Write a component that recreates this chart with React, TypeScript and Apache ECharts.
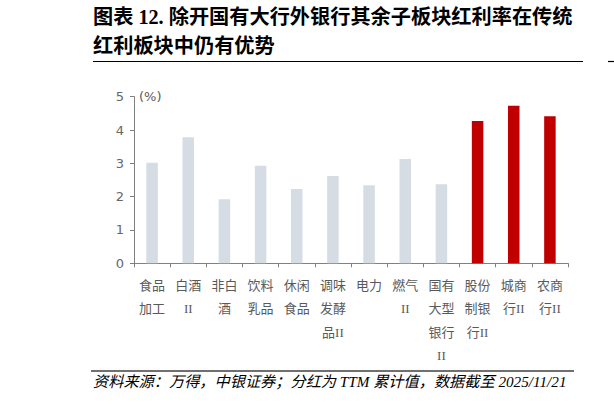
import React, { useEffect, useRef } from "react";
import * as echarts from "echarts";

const categories = [
  "食品\n加工",
  "白酒\nII",
  "非白\n酒",
  "饮料\n乳品",
  "休闲\n食品",
  "调味\n发酵\n品II",
  "电力",
  "燃气\nII",
  "国有\n大型\n银行\nII",
  "股份\n制银\n行II",
  "城商\n行II",
  "农商\n行II",
];
const dividendYield = [3.02, 3.78, 1.92, 2.93, 2.23, 2.62, 2.34, 3.13, 2.37, 4.27, 4.73, 4.41];
const highlighted = [false, false, false, false, false, false, false, false, false, true, true, true];
const yTicks = { min: 0, max: 5, interval: 1 };
const titleLines = ["图表 12. 除开国有大行外银行其余子板块红利率在传统", "红利板块中仍有优势"];
const sourceText = "资料来源：万得，中银证券；分红为 TTM 累计值，数据截至 2025/11/21";
const unitText = "(%)";

const GRAY = "#D6DCE4";
const RED = "#C00000";

export default function App() {
  const ref = useRef<HTMLDivElement>(null);
  useEffect(() => {
    if (!ref.current) return;
    const chart = echarts.init(ref.current, undefined, { renderer: "svg" });
    chart.setOption({
      animation: false,
      backgroundColor: "#ffffff",
      grid: { left: 134, right: 46, top: 96.7, bottom: 140.7, containLabel: false },
      xAxis: {
        type: "category",
        data: categories,
        axisLine: { show: true, lineStyle: { color: "#808080", width: 1 } },
        axisTick: { show: true, length: 4, lineStyle: { color: "#808080" } },
        axisLabel: {
          interval: 0,
          margin: 10,
          fontSize: 13,
          lineHeight: 23.5,
          color: "#595959",
          fontFamily: "'Liberation Serif', 'Noto Sans CJK SC'",
          verticalAlign: "top",
        },
        splitLine: { show: false },
      },
      yAxis: {
        type: "value",
        min: yTicks.min,
        max: yTicks.max,
        interval: yTicks.interval,
        axisLine: { show: true, lineStyle: { color: "#808080", width: 1 } },
        axisTick: { show: true, length: 4, lineStyle: { color: "#808080" } },
        axisLabel: {
          margin: 10,
          fontSize: 13,
          color: "#666666",
          fontFamily: "'DejaVu Sans', sans-serif",
        },
        splitLine: { show: false },
      },
      series: [
        {
          type: "bar",
          barWidth: 11.5,
          data: dividendYield.map((v, i) => ({
            value: v,
            itemStyle: { color: highlighted[i] ? RED : GRAY },
          })),
        },
      ],
      graphic: [
        {
          type: "text",
          left: 93,
          top: 7,
          style: {
            text: titleLines[0],
            fontSize: 20.2,
            fontWeight: "bold",
            fontFamily: "'Liberation Serif', 'Noto Sans CJK SC'",
            fill: "#000000",
          },
        },
        {
          type: "text",
          left: 93,
          top: 36,
          style: {
            text: titleLines[1],
            fontSize: 20.2,
            fontWeight: "bold",
            fontFamily: "'Liberation Serif', 'Noto Sans CJK SC'",
            fill: "#000000",
          },
        },
        {
          type: "line",
          shape: { x1: 93, y1: 61.5, x2: 583, y2: 61.5 },
          style: { stroke: "#000000", lineWidth: 1.2 },
        },
        {
          type: "line",
          shape: { x1: 608, y1: 61.5, x2: 614, y2: 61.5 },
          style: { stroke: "#000000", lineWidth: 1.2 },
        },
        {
          type: "text",
          left: 139,
          top: 90,
          style: {
            text: unitText,
            fontSize: 13,
            fill: "#595959",
            fontFamily: "'DejaVu Sans', sans-serif",
          },
        },
        {
          type: "line",
          shape: { x1: 91, y1: 371, x2: 574, y2: 371 },
          style: { stroke: "#404040", lineWidth: 1.5 },
        },
        {
          type: "text",
          left: 93,
          top: 374,
          style: {
            text: sourceText,
            fontSize: 15.2,
            fontStyle: "italic",
            fontFamily: "'Liberation Serif', 'Noto Sans CJK SC'",
            fill: "#000000",
          },
        },
      ],
    });
    return () => chart.dispose();
  }, []);
  return (
    <div
      ref={ref}
      style={{ position: "fixed", left: 0, top: 0, width: 614, height: 404 }}
    />
  );
}
